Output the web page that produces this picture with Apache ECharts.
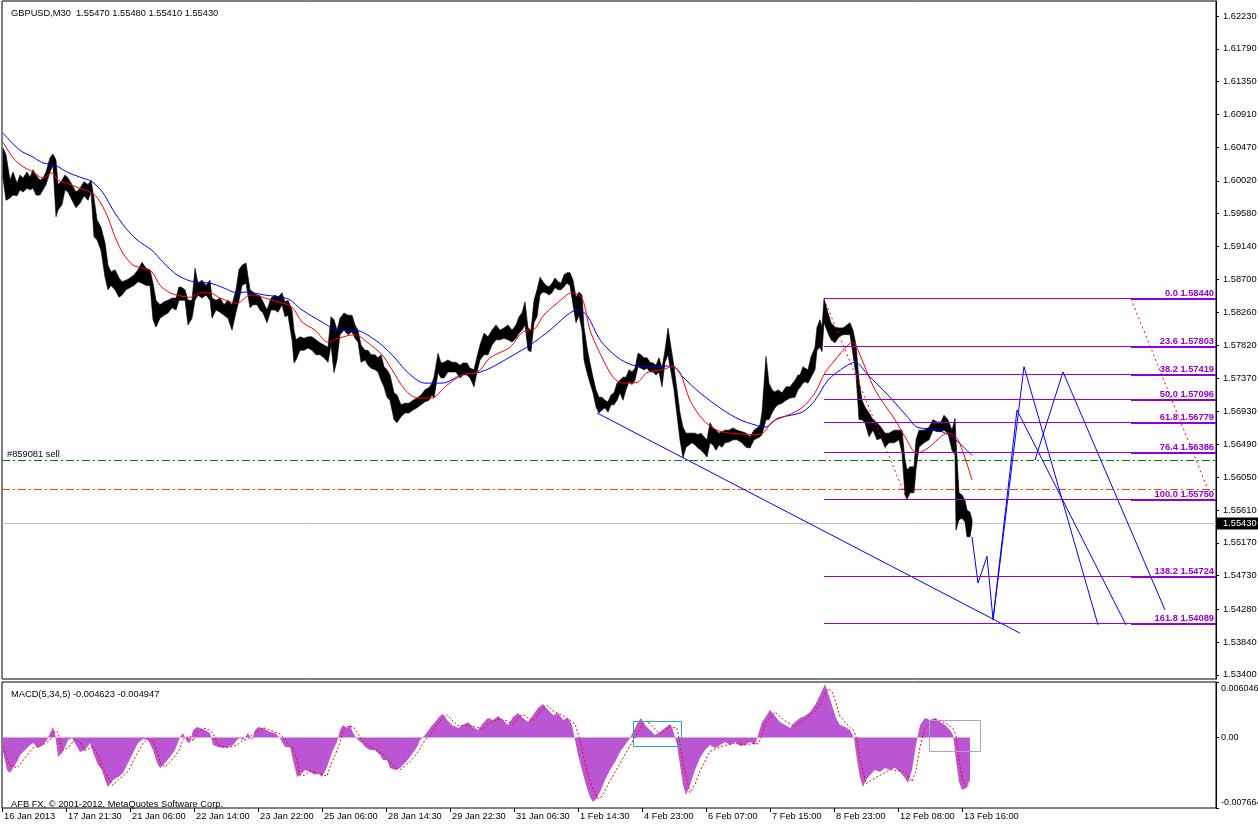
<!DOCTYPE html>
<html><head><meta charset="utf-8">
<script src="https://cdn.jsdelivr.net/npm/echarts@6/dist/echarts.min.js"></script>
<style>html,body{margin:0;padding:0;background:#fff}#c{width:1258px;height:826px}</style>
</head><body><div id="c"></div>
<script>
// ---------------- DATA ----------------
const timeTickBars = [0,64,128,192,256,320,384,448,512,576,640,704,768,832,896,960];
const timeLabels = ["16 Jan 2013","17 Jan 21:30","21 Jan 06:00","22 Jan 14:00","23 Jan 22:00","25 Jan 06:00","28 Jan 14:30","29 Jan 22:30","31 Jan 06:30","1 Feb 14:30","4 Feb 23:00","6 Feb 07:00","7 Feb 15:00","8 Feb 23:00","12 Feb 08:00","13 Feb 16:00"];
const priceTicks = [1.62230,1.61790,1.61350,1.60910,1.60470,1.60020,1.59580,1.59140,1.58700,1.58260,1.57820,1.57370,1.56930,1.56490,1.56050,1.55610,1.55170,1.54730,1.54280,1.53840,1.53400];
const macdTicks = [0.006046, 0, -0.007664];
const lastPrice = 1.55430;

// [bar, high, low]
const priceRange = [
[1,1.6046,1.6006],[4,1.6037,1.5976],[8,1.6003,1.5979],[11,1.6014,1.5983],[15,1.5999,1.5982],[18,1.6010,1.5990],[21,1.6006,1.5987],[25,1.6014,1.5992],[28,1.6007,1.5990],[31,1.6017,1.5992],[34,1.6010,1.5983],[38,1.6003,1.5983],[41,1.6006,1.5990],[44,1.6014,1.5997],[48,1.6033,1.6014],[51,1.6038,1.6023],[54,1.6030,1.5954],[56,1.5997,1.5963],[60,1.6003,1.5970],[63,1.6010,1.5990],[66,1.6006,1.5987],[70,1.5997,1.5976],[74,1.5987,1.5966],[78,1.5992,1.5972],[82,1.6001,1.5982],[86,1.5997,1.5976],[89,1.6003,1.5987],[92,1.5979,1.5927],[95,1.5950,1.5923],[99,1.5940,1.5909],
[103,1.5919,1.5873],[106,1.5889,1.5856],[109,1.5880,1.5862],[113,1.5883,1.5856],[117,1.5872,1.5846],[120,1.5867,1.5849],[124,1.5869,1.5856],[128,1.5872,1.5859],[132,1.5876,1.5862],[136,1.5883,1.5867],[140,1.5893,1.5865],[144,1.5885,1.5862],[148,1.5883,1.5862],[151,1.5865,1.5816],[154,1.5842,1.5806],[158,1.5836,1.5818],[162,1.5840,1.5822],[166,1.5842,1.5825],[170,1.5845,1.5832],[174,1.5845,1.5829],[177,1.5860,1.5842],[180,1.5859,1.5842],[183,1.5856,1.5842],[186,1.5842,1.5809],[190,1.5842,1.5818],[193,1.5885,1.5842],[196,1.5865,1.5849],[200,1.5869,1.5845],[204,1.5862,1.5849],[208,1.5869,1.5842],
[210,1.5845,1.5818],[214,1.5842,1.5829],[218,1.5845,1.5826],[222,1.5836,1.5822],[226,1.5842,1.5818],[230,1.5836,1.5802],[234,1.5856,1.5826],[237,1.5883,1.5842],[240,1.5889,1.5862],[244,1.5892,1.5865],[248,1.5856,1.5832],[251,1.5853,1.5836],[255,1.5849,1.5836],[258,1.5848,1.5829],[261,1.5840,1.5825],[265,1.5829,1.5812],[269,1.5845,1.5829],[273,1.5849,1.5829],[276,1.5846,1.5826],[280,1.5852,1.5836],[283,1.5840,1.5820],[286,1.5842,1.5822],[290,1.5829,1.5789],[292,1.5802,1.5758],[294,1.5789,1.5762],[298,1.5793,1.5775],[302,1.5791,1.5775],[306,1.5793,1.5778],[310,1.5793,1.5775],[314,1.5789,1.5769],
[318,1.5785,1.5769],[322,1.5782,1.5765],[326,1.5779,1.5759],[329,1.5820,1.5782],[332,1.5816,1.5745],[335,1.5802,1.5762],[338,1.5818,1.5796],[342,1.5825,1.5802],[346,1.5822,1.5796],[350,1.5822,1.5800],[353,1.5809,1.5791],[356,1.5802,1.5786],[359,1.5782,1.5759],[363,1.5775,1.5762],[366,1.5775,1.5755],[369,1.5769,1.5751],[373,1.5769,1.5749],[376,1.5765,1.5746],[379,1.5769,1.5735],[382,1.5753,1.5726],[385,1.5749,1.5712],[388,1.5742,1.5708],[392,1.5718,1.5682],[395,1.5715,1.5678],[399,1.5702,1.5686],[403,1.5704,1.5691],[407,1.5704,1.5691],[411,1.5708,1.5695],[415,1.5711,1.5698],[419,1.5715,1.5702],
[423,1.5722,1.5706],[427,1.5725,1.5708],[430,1.5731,1.5715],[432,1.5739,1.5711],[436,1.5771,1.5745],[439,1.5758,1.5738],[442,1.5759,1.5738],[446,1.5762,1.5746],[450,1.5759,1.5746],[454,1.5759,1.5746],[458,1.5755,1.5738],[461,1.5758,1.5742],[465,1.5758,1.5742],[468,1.5751,1.5738],[472,1.5749,1.5726],[475,1.5766,1.5746],[478,1.5782,1.5762],[482,1.5798,1.5769],[486,1.5793,1.5769],[490,1.5802,1.5782],[494,1.5809,1.5789],[498,1.5802,1.5789],[502,1.5805,1.5791],[506,1.5809,1.5789],[510,1.5802,1.5786],[514,1.5809,1.5791],[517,1.5820,1.5798],[520,1.5825,1.5802],[523,1.5840,1.5809],[526,1.5805,1.5775],
[529,1.5802,1.5773],[532,1.5842,1.5812],[535,1.5856,1.5820],[538,1.5873,1.5849],[541,1.5867,1.5853],[544,1.5862,1.5852],[547,1.5860,1.5849],[550,1.5865,1.5852],[553,1.5872,1.5859],[556,1.5867,1.5856],[559,1.5865,1.5856],[562,1.5876,1.5860],[565,1.5879,1.5865],[568,1.5879,1.5862],[571,1.5869,1.5836],[574,1.5846,1.5812],[577,1.5853,1.5822],[580,1.5849,1.5802],[582,1.5806,1.5762],[585,1.5779,1.5745],[588,1.5758,1.5731],[591,1.5739,1.5718],[594,1.5722,1.5699],[597,1.5712,1.5691],[600,1.5712,1.5695],[603,1.5708,1.5698],[606,1.5706,1.5692],[609,1.5715,1.5702],[612,1.5718,1.5702],[615,1.5731,1.5708],
[618,1.5735,1.5718],[621,1.5739,1.5708],[624,1.5739,1.5722],[627,1.5749,1.5733],[630,1.5746,1.5729],[633,1.5751,1.5735],[636,1.5771,1.5753],[639,1.5769,1.5751],[642,1.5765,1.5749],[645,1.5765,1.5751],[648,1.5759,1.5746],[651,1.5758,1.5746],[654,1.5755,1.5742],[657,1.5765,1.5746],[660,1.5751,1.5726],[663,1.5775,1.5759],[666,1.5805,1.5769],[669,1.5779,1.5746],[672,1.5753,1.5722],[675,1.5722,1.5688],[678,1.5691,1.5655],[681,1.5672,1.5631],[684,1.5664,1.5645],[687,1.5664,1.5648],[690,1.5664,1.5651],[693,1.5664,1.5648],[696,1.5662,1.5644],[699,1.5664,1.5641],[702,1.5659,1.5637],[705,1.5655,1.5632],
[708,1.5678,1.5651],[711,1.5671,1.5648],[714,1.5668,1.5641],[717,1.5664,1.5648],[720,1.5666,1.5645],[723,1.5668,1.5651],[727,1.5668,1.5652],[731,1.5671,1.5655],[735,1.5668,1.5655],[740,1.5666,1.5651],[744,1.5664,1.5645],[748,1.5659,1.5644],[752,1.5668,1.5655],[755,1.5671,1.5657],[758,1.5675,1.5659],[760,1.5692,1.5662],[764,1.5767,1.5682],[767,1.5731,1.5682],[770,1.5722,1.5691],[773,1.5719,1.5698],[776,1.5722,1.5702],[780,1.5718,1.5704],[784,1.5726,1.5708],[788,1.5726,1.5711],[793,1.5735,1.5712],[796,1.5742,1.5722],[798,1.5742,1.5725],[801,1.5753,1.5731],[803,1.5751,1.5733],[806,1.5749,1.5731],
[809,1.5766,1.5739],[813,1.5779,1.5749],[815,1.5806,1.5775],[818,1.5816,1.5779],[820,1.5806,1.5773],[822,1.5844,1.5812],[826,1.5825,1.5798],[829,1.5812,1.5789],[833,1.5806,1.5785],[837,1.5805,1.5793],[841,1.5805,1.5796],[845,1.5809,1.5796],[848,1.5812,1.5796],[851,1.5802,1.5769],[854,1.5782,1.5742],[857,1.5735,1.5682],[860,1.5708,1.5682],[863,1.5699,1.5678],[867,1.5691,1.5659],[871,1.5682,1.5668],[875,1.5678,1.5655],[879,1.5672,1.5657],[883,1.5664,1.5645],[887,1.5664,1.5651],[892,1.5668,1.5651],[897,1.5668,1.5655],[900,1.5668,1.5637],[903,1.5628,1.5581],[905,1.5615,1.5575],[908,1.5619,1.5584],
[912,1.5619,1.5584],[914,1.5655,1.5615],[917,1.5668,1.5645],[922,1.5668,1.5651],[927,1.5672,1.5655],[931,1.5682,1.5668],[935,1.5679,1.5666],[939,1.5679,1.5666],[942,1.5688,1.5668],[946,1.5682,1.5664],[950,1.5668,1.5641],[953,1.5684,1.5635],[954,1.5655,1.5534],[957,1.5584,1.5548],[960,1.5581,1.5550],[963,1.5574,1.5545],[965,1.5561,1.5525],[968,1.5558,1.5525],[970,1.5548,1.5541]
];

const maSlow = [[1,1.6066],[18,1.6043],[31,1.6034],[41,1.6026],[53,1.6023],[65,1.6014],[78,1.6007],[90,1.6001],[101,1.5986],[111,1.5963],[123,1.5940],[135,1.5923],[150,1.5909],[161,1.5893],[175,1.5876],[188,1.5868],[198,1.5866],[208,1.5865],[221,1.5859],[235,1.5852],[243,1.5853],[263,1.5849],[286,1.5844],[300,1.5829],[320,1.5813],[336,1.5802],[353,1.5802],[373,1.5789],[390,1.5769],[406,1.5745],[423,1.5731],[440,1.5731],[460,1.5742],[476,1.5745],[488,1.5751],[508,1.5766],[528,1.5782],[548,1.5802],[565,1.5822],[575,1.5829],[585,1.5822],[598,1.5789],[615,1.5766],[631,1.5755],[648,1.5753],[670,1.5754],[681,1.5739],[698,1.5718],[721,1.5695],[738,1.5682],[753,1.5675],[763,1.5672],[776,1.5684],[800,1.5692],[813,1.5708],[826,1.5735],[843,1.5753],[853,1.5759],[866,1.5742],[886,1.5715],[906,1.5685],[915,1.5672],[933,1.5669],[950,1.5659],[970,1.5634]];

const maFast = [[1,1.6054],[11,1.6033],[21,1.6021],[31,1.6014],[41,1.6006],[50,1.6013],[56,1.6003],[65,1.5999],[78,1.5992],[88,1.5987],[95,1.5980],[105,1.5956],[113,1.5927],[121,1.5905],[131,1.5889],[141,1.5885],[150,1.5880],[158,1.5862],[168,1.5852],[178,1.5848],[188,1.5846],[198,1.5852],[208,1.5852],[218,1.5845],[228,1.5840],[235,1.5838],[248,1.5849],[253,1.5849],[263,1.5845],[276,1.5840],[290,1.5833],[300,1.5813],[313,1.5802],[326,1.5786],[336,1.5791],[353,1.5796],[366,1.5785],[380,1.5769],[390,1.5749],[403,1.5722],[416,1.5711],[430,1.5711],[443,1.5726],[460,1.5742],[476,1.5746],[488,1.5765],[508,1.5779],[521,1.5800],[533,1.5804],[541,1.5821],[555,1.5838],[570,1.5852],[580,1.5845],[588,1.5802],[598,1.5771],[611,1.5739],[621,1.5731],[635,1.5732],[645,1.5745],[661,1.5749],[670,1.5753],[678,1.5745],[688,1.5708],[701,1.5682],[715,1.5668],[728,1.5664],[738,1.5663],[750,1.5662],[761,1.5664],[770,1.5679],[786,1.5688],[800,1.5698],[813,1.5718],[823,1.5745],[833,1.5762],[846,1.5782],[851,1.5786],[856,1.5775],[873,1.5722],[893,1.5682],[903,1.5659],[915,1.5637],[926,1.5644],[946,1.5664],[956,1.5655],[970,1.5601]];

const macdMain = [[1,-0.00157],[5,-0.00353],[8,-0.00385],[11,-0.00331],[15,-0.00265],[18,-0.00189],[23,-0.00135],[28,-0.00081],[31,-0.00059],[36,-0.00113],[41,-0.00081],[45,-0.00026],[48,0.00050],[51,0.00115],[53,0.00050],[56,-0.00211],[60,-0.00168],[63,-0.00102],[66,-0.00026],[70,-0.00004],[73,-0.00059],[78,-0.00157],[83,-0.00135],[88,-0.00059],[91,-0.00157],[96,-0.00298],[100,-0.00353],[103,-0.00461],[106,-0.00538],[111,-0.00461],[116,-0.00429],[121,-0.00385],[126,-0.00276],[131,-0.00168],[136,-0.00059],[141,-0.00015],[146,-0.00026],[151,-0.00135],[155,-0.00276],[158,-0.00331],[163,-0.00276],[168,-0.00211],[173,-0.00135],[178,0.00007],[181,0.00050],[185,-0.00048],[188,-0.00059],[191,0.00083],[195,0.00115],[198,0.00104],[203,0.00083],[208,0.00050],[211,-0.00081],[216,-0.00102],[221,-0.00113],[226,-0.00102],[231,-0.00081],[235,-0.00026],[238,-0.00004],[241,-0.00026],[246,0.00050],[250,-0.00026],[253,0.00083],[256,0.00115],[261,0.00104],[268,0.00061],[273,0.00050],[278,-0.00004],[283,-0.00102],[288,-0.00102],[291,-0.00244],[295,-0.00429],[298,-0.00407],[303,-0.00353],[308,-0.00374],[313,-0.00407],[316,-0.00385],[320,-0.00429],[325,-0.00320],[328,-0.00222],[331,-0.00135],[335,-0.00048],[338,0.00083],[341,0.00137],[345,0.00104],[348,0.00137],[351,0.00050],[356,-0.00026],[360,-0.00059],[363,-0.00102],[368,-0.00135],[373,-0.00135],[378,-0.00189],[381,-0.00244],[385,-0.00244],[388,-0.00331],[393,-0.00353],[398,-0.00331],[403,-0.00276],[408,-0.00211],[413,-0.00135],[416,-0.00081],[418,-0.00026],[423,0.00028],[428,0.00104],[433,0.00170],[438,0.00235],[441,0.00257],[445,0.00192],[450,0.00137],[456,0.00104],[461,0.00137],[466,0.00170],[471,0.00115],[476,0.00083],[481,0.00159],[486,0.00213],[491,0.00192],[496,0.00235],[501,0.00192],[506,0.00137],[511,0.00224],[516,0.00268],[521,0.00213],[526,0.00170],[531,0.00246],[536,0.00322],[541,0.00366],[546,0.00300],[551,0.00246],[556,0.00268],[561,0.00192],[566,0.00213],[570,0.00137],[573,-0.00026],[576,-0.00189],[580,-0.00353],[584,-0.00516],[588,-0.00646],[591,-0.00701],[595,-0.00657],[599,-0.00570],[603,-0.00461],[608,-0.00353],[613,-0.00265],[618,-0.00157],[623,-0.00081],[628,-0.00004],[632,0.00083],[636,0.00170],[639,0.00213],[643,0.00137],[648,0.00083],[653,0.00028],[658,0.00061],[663,0.00104],[668,0.00148],[671,0.00083],[675,-0.00081],[678,-0.00298],[681,-0.00516],[684,-0.00625],[688,-0.00516],[693,-0.00353],[698,-0.00222],[703,-0.00135],[708,-0.00081],[713,-0.00113],[718,-0.00081],[723,-0.00048],[728,-0.00081],[733,-0.00048],[738,-0.00091],[743,-0.00081],[748,-0.00048],[753,-0.00081],[756,0.00028],[760,0.00170],[763,0.00213],[768,0.00300],[773,0.00235],[778,0.00170],[783,0.00137],[788,0.00104],[793,0.00170],[798,0.00213],[803,0.00235],[808,0.00279],[813,0.00355],[818,0.00464],[823,0.00580],[826,0.00485],[830,0.00355],[834,0.00213],[838,0.00137],[843,0.00115],[848,0.00083],[852,-0.00004],[855,-0.00244],[858,-0.00440],[861,-0.00538],[864,-0.00461],[868,-0.00407],[873,-0.00353],[878,-0.00374],[883,-0.00331],[888,-0.00353],[893,-0.00331],[898,-0.00374],[903,-0.00440],[906,-0.00494],[910,-0.00353],[914,-0.00081],[918,0.00137],[923,0.00213],[928,0.00192],[933,0.00213],[938,0.00170],[943,0.00137],[948,0.00083],[951,0.00028],[954,-0.00244],[957,-0.00483],[960,-0.00570],[964,-0.00548],[968,-0.00462]];

const macdSignal = [[1,-0.0010],[8,-0.0030],[15,-0.0033],[23,-0.0022],[31,-0.0011],[41,-0.0008],[48,-0.0003],[53,0.0007],[56,0.0006],[60,-0.0014],[66,-0.0011],[73,-0.0002],[78,-0.0005],[83,-0.0014],[91,-0.0010],[96,-0.0019],[100,-0.0031],[106,-0.0044],[111,-0.0052],[116,-0.0046],[121,-0.0042],[126,-0.0037],[131,-0.0026],[136,-0.0016],[141,-0.0006],[146,-0.0002],[151,-0.0004],[155,-0.0014],[158,-0.0027],[163,-0.0032],[168,-0.0027],[173,-0.0020],[178,-0.0012],[181,-0.0002],[188,0.0002],[191,-0.0004],[195,0.0006],[203,0.0010],[208,0.0008],[211,0.0004],[216,-0.0008],[226,-0.0011],[235,-0.0008],[241,-0.0003],[246,-0.0002],[250,0.0003],[256,0.0007],[261,0.0011],[268,0.0008],[278,0.0004],[283,-0.0002],[288,-0.0010],[291,-0.0011],[295,-0.0025],[298,-0.0041],[303,-0.0041],[308,-0.0036],[316,-0.0039],[320,-0.0040],[325,-0.0042],[328,-0.0032],[331,-0.0024],[335,-0.0014],[338,-0.0005],[341,0.0007],[345,0.0012],[351,0.0012],[356,0.0004],[363,-0.0006],[373,-0.0013],[381,-0.0018],[388,-0.0026],[393,-0.0033],[398,-0.0035],[403,-0.0031],[408,-0.0026],[413,-0.0020],[418,-0.0012],[423,-0.0003],[428,0.0003],[433,0.0011],[438,0.0018],[445,0.0025],[450,0.0019],[456,0.0013],[466,0.0013],[476,0.0011],[481,0.0009],[486,0.0015],[496,0.0020],[506,0.0018],[511,0.0014],[516,0.0022],[521,0.0025],[531,0.0018],[536,0.0025],[541,0.0032],[546,0.0035],[551,0.0029],[561,0.0024],[566,0.0020],[573,0.0015],[576,0.0005],[580,-0.0012],[584,-0.0032],[588,-0.0048],[595,-0.0066],[599,-0.0065],[603,-0.0058],[608,-0.0047],[618,-0.0028],[628,-0.0009],[636,0.0006],[643,0.0018],[648,0.0015],[658,0.0004],[668,0.0012],[675,0.0010],[678,-0.0006],[681,-0.0028],[688,-0.0060],[693,-0.0051],[698,-0.0036],[708,-0.0015],[718,-0.0010],[733,-0.0006],[743,-0.0008],[753,-0.0006],[756,-0.0007],[760,0.0002],[763,0.0015],[768,0.0021],[773,0.0028],[783,0.0018],[793,0.0012],[803,0.0020],[813,0.0029],[818,0.0037],[823,0.0047],[826,0.0053],[830,0.0050],[834,0.0038],[838,0.0023],[848,0.0011],[852,0.0007],[855,-0.0002],[858,-0.0023],[864,-0.0050],[873,-0.0044],[888,-0.0035],[903,-0.0037],[906,-0.0042],[910,-0.0048],[914,-0.0036],[918,-0.0010],[923,0.0011],[933,0.0020],[943,0.0016],[951,0.0010],[954,0.0002],[957,-0.0023],[960,-0.0044],[964,-0.0055],[968,-0.0049]];

// Fibonacci retracement levels
const fibPercents = [0.0, 23.6, 38.2, 50.0, 61.8, 76.4, 100.0, 138.2, 161.8];
const fibPrices = [1.58440, 1.57803, 1.57419, 1.57096, 1.56779, 1.56386, 1.55750, 1.54724, 1.54089];

// drawn objects (bar, price)
const trendLine = [[595,1.5691],[1018,1.5396]];
const fibBaseA = [[822,1.5844],[905,1.5575]];
const fibBaseB = [[1129,1.5844],[1210,1.5575]];
const projPath1 = [[970,1.5525],[976,1.5463],[985,1.5499],[991,1.5414],[1022,1.5753],[1096,1.5407]];
const projPath2 = [[991,1.5414],[1015,1.5695],[1124,1.5407]];
const projPath3 = [[1033,1.5628],[1061,1.5746],[1163,1.5427]];
const orderPrice = 1.5627;
const orderText = '#859081 sell';
const stopPrice = 1.5589;

const waveNames = ["[iv]","b","a","c","(i)","[iii]","(ii)","c","a","b","b","a","c (iii)","[v]"];
const waveBars = [565,664,591,712,712,389,820,820,760,778,939,906,1001,1141];
const wavePrices = [1.5904,1.5821,1.5664,1.5605,1.5581,1.5637,1.5903,1.5876,1.5778,1.5652,1.5730,1.5554,1.5372,1.5364];

const macdBoxes = [[631,0.0018,679,-0.0009],[927,0.0019,978,-0.00145]];

// ---------------- CHART ----------------
const FONT = "'Liberation Sans',Arial,sans-serif";
const FS = 9.3;
const X_MIN = 0, X_MAX = 1214;
const fibStartBar = 822, fibThickBar = 1129;
const chart = echarts.init(document.getElementById('c'), null, {renderer:'canvas'});

function lineSeries(data, color, type, z, smooth){
  return {type:'line', xAxisIndex:0, yAxisIndex:0, data, showSymbol:false, symbol:'none', smooth: smooth||false,
    lineStyle:{color, width:1, type: type||'solid'}, silent:true, animation:false, z: z||4};
}
function crisp(v){ return Math.round(v - 0.5) + 0.5; }

// horizontal level lines: price, colour, dash
const hLevels = [[orderPrice,'#008000',[8,3,2,3]],[stopPrice,'#FF4500',[8,3,2,3]],[lastPrice,'#C0C0C0',null]];

const option = {
  animation:false,
  backgroundColor:'#fff',
  title:[
    {text:'GBPUSD,M30  1.55470 1.55480 1.55410 1.55430', left:6, top:4, textStyle:{fontSize:FS, fontWeight:'normal', color:'#000', fontFamily:FONT}},
    {text:'MACD(5,34,5) -0.004623 -0.004947', left:6, top:685, textStyle:{fontSize:FS, fontWeight:'normal', color:'#000', fontFamily:FONT}},
    {text:'AFB FX, \u00a9 2001-2012, MetaQuotes Software Corp.', left:6, top:795, textStyle:{fontSize:FS, fontWeight:'normal', color:'#000', fontFamily:FONT}}
  ],
  grid:[
    {left:2, top:1, width:1214, height:678, show:true, borderColor:'#000', borderWidth:1, containLabel:false, outerBoundsMode:'none'},
    {left:2, top:682, width:1214, height:126, show:true, borderColor:'#000', borderWidth:1, containLabel:false, outerBoundsMode:'none'}
  ],
  xAxis:[
    {gridIndex:0, type:'value', min:X_MIN, max:X_MAX, show:false, axisLine:{onZero:false}},
    {gridIndex:1, type:'value', min:X_MIN, max:X_MAX, position:'bottom',
      axisLine:{show:false, onZero:false}, splitLine:{show:false},
      axisTick:{show:true, length:4, customValues:timeTickBars, lineStyle:{color:'#000'}},
      axisLabel:{customValues:timeTickBars, formatter:v=>timeLabels[timeTickBars.indexOf(v)], align:'left', padding:[0,0,0,2], margin:4, fontSize:FS, color:'#000', fontFamily:FONT}}
  ],
  yAxis:[
    {gridIndex:0, type:'value', position:'right', min:1.53345, max:1.62431,
      axisLine:{show:true, onZero:false, lineStyle:{color:'#000'}}, splitLine:{show:false},
      axisTick:{show:true, length:3, customValues:priceTicks, lineStyle:{color:'#000'}},
      axisLabel:{customValues:priceTicks, formatter:v=>v.toFixed(5), margin:7, fontSize:FS, color:'#000', fontFamily:FONT}},
    {gridIndex:1, type:'value', position:'right', min:-0.007664, max:0.006046,
      axisLine:{show:true, onZero:false, lineStyle:{color:'#000'}}, splitLine:{show:false},
      axisTick:{show:true, length:3, customValues:macdTicks, lineStyle:{color:'#000'}},
      axisLabel:{customValues:macdTicks, margin:5, fontSize:9, color:'#000', fontFamily:FONT,
        formatter:v=> v===macdTicks[0] ? '{t|'+v.toFixed(6)+'}' : (v===0 ? '0.00' : '{b|'+v.toFixed(6)+'}'),
        rich:{t:{padding:[14,0,0,0], fontSize:9, fontFamily:FONT, color:'#000'}, b:{padding:[0,0,10,0], fontSize:9, fontFamily:FONT, color:'#000'}}}}
  ],
  series:[
    // price bars as a high/low ribbon
    {type:'custom', xAxisIndex:0, yAxisIndex:0, data:[[0,1.58]], silent:true, z:2,
      renderItem:(params, api)=>{
        const up = priceRange.map(r=>api.coord([r[0], r[1]]));
        const dn = priceRange.map(r=>api.coord([r[0], r[2]])).reverse();
        return {type:'polygon', shape:{points:up.concat(dn)}, style:{fill:'#000', stroke:'#000', lineWidth:0.6}};
      }},
    // moving averages
    lineSeries(maSlow, '#0000FF', 'solid', 3, 0.3),
    lineSeries(maFast, '#FF0000', 'solid', 3, 0.3),
    // horizontal levels (crisp)
    {type:'custom', xAxisIndex:0, yAxisIndex:0, silent:true, z:1,
      data: hLevels.map(h=>[X_MIN, h[0]]),
      renderItem:(params, api)=>{
        const h = hLevels[params.dataIndex];
        const a = api.coord([X_MIN, h[0]]), b = api.coord([X_MAX, h[0]]);
        const y = crisp(a[1]);
        return {type:'line', shape:{x1:a[0], y1:y, x2:b[0], y2:y}, style:{stroke:h[1], lineWidth:1, lineDash:h[2]}};
      }},
    // drawn objects
    lineSeries(trendLine, '#0000FF'),
    lineSeries(projPath1, '#0000FF'),
    lineSeries(projPath2, '#0000FF'),
    lineSeries(projPath3, '#0000FF'),
    lineSeries(fibBaseA, '#FF0000', [2,3]),
    lineSeries(fibBaseB, '#FF0000', [2,3]),
    // fibonacci levels
    {type:'custom', xAxisIndex:0, yAxisIndex:0, silent:true, z:5,
      data: fibPrices.map(p=>[fibStartBar, p]),
      renderItem:(params, api)=>{
        const i = params.dataIndex, p = fibPrices[i];
        const a = api.coord([fibStartBar, p]), b = api.coord([fibThickBar, p]), c = api.coord([X_MAX, p]);
        const y = crisp(a[1]);
        return {type:'group', children:[
          {type:'line', shape:{x1:a[0], y1:y, x2:b[0], y2:y}, style:{stroke:'#9400D3', lineWidth:1}},
          {type:'rect', shape:{x:b[0], y:y-0.5, width:c[0]-b[0], height:2}, style:{fill:'#9400D3'}},
          {type:'text', x:c[0]-2, y:y-1, style:{text: fibPercents[i].toFixed(1)+' '+p.toFixed(5), fill:'#9400D3', font:'bold '+FS+'px '+FONT, align:'right', verticalAlign:'bottom'}}
        ]};
      }},
    // order label + current price tag
    {type:'custom', xAxisIndex:0, yAxisIndex:0, silent:true, z:6, clip:false,
      data:[[X_MIN, orderPrice]],
      renderItem:(params, api)=>{
        const o = api.coord([X_MIN, orderPrice]);
        const l = api.coord([X_MAX, lastPrice]);
        return {type:'group', children:[
          {type:'text', x:o[0]+5, y:crisp(o[1])-2, style:{text:orderText, fill:'#000', font:FS+'px '+FONT, align:'left', verticalAlign:'bottom'}},
          {type:'text', x:l[0]+1, y:l[1], style:{text:lastPrice.toFixed(5), fill:'#fff', backgroundColor:'#000', padding:[2,4,1,6], font:FS+'px '+FONT, align:'left', verticalAlign:'middle'}}
        ]};
      }},
    // wave labels
    {type:'scatter', xAxisIndex:0, yAxisIndex:0, silent:true, symbolSize:1, itemStyle:{opacity:0}, z:6,
      data: waveNames.map((n,i)=>({name:n, value:[waveBars[i], wavePrices[i]]})),
      label:{show:true, position:'inside', formatter:'{b}', color:'#0000FF', fontSize:12, fontFamily:FONT}},
    // MACD
    {type:'line', xAxisIndex:1, yAxisIndex:1, data:macdMain, showSymbol:false, symbol:'none', silent:true,
      lineStyle:{width:0, color:'#BA55D3'}, areaStyle:{color:'#BA55D3', opacity:1, origin:0}, z:2},
    {type:'line', xAxisIndex:1, yAxisIndex:1, data:macdSignal, showSymbol:false, symbol:'none', silent:true,
      lineStyle:{width:1, color:'#FF0000', type:[2,2]}, z:3},
    {type:'custom', xAxisIndex:1, yAxisIndex:1, silent:true, z:4,
      data: macdBoxes.map(b=>[b[0], b[1]]),
      renderItem:(params, api)=>{
        const b = macdBoxes[params.dataIndex];
        const p1 = api.coord([b[0], b[1]]), p2 = api.coord([b[2], b[3]]);
        const col = params.dataIndex===0 ? '#20B2AA' : '#B0A0D0';
        return {type:'rect', shape:{x:crisp(p1[0]), y:crisp(p1[1]), width:Math.round(p2[0]-p1[0]), height:Math.round(p2[1]-p1[1])}, style:{fill:'none', stroke:col, lineWidth:1}};
      }}
  ]
};
chart.setOption(option);
</script>
</body></html>
